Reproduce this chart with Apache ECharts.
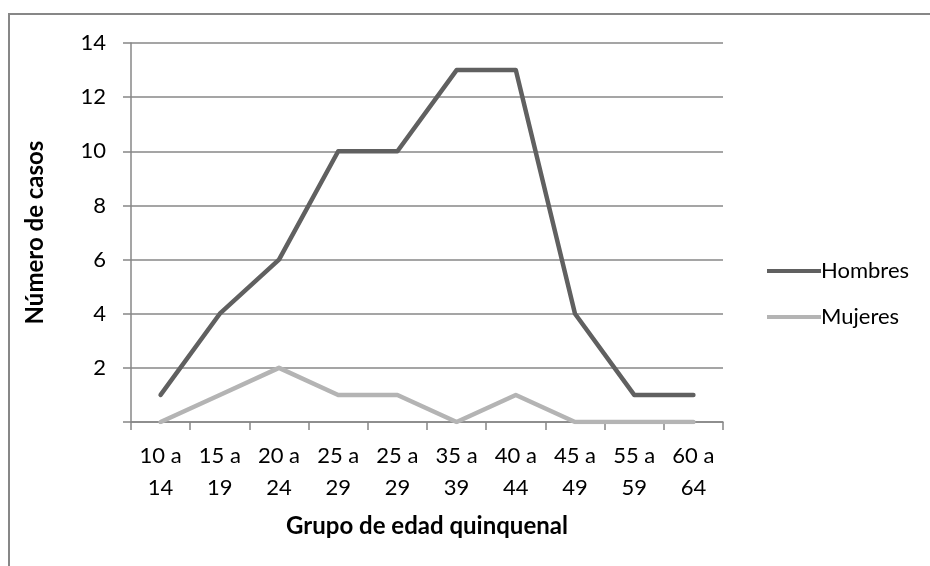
<!DOCTYPE html>
<html><head><meta charset="utf-8">
<script src="https://cdn.jsdelivr.net/npm/echarts@6/dist/echarts.min.js"></script>
<style>html,body{margin:0;padding:0;background:#fff}#c{width:930px;height:566px}</style>
</head><body><div id="c"></div>
<script>
var categories = ['10 a\n14','15 a\n19','20 a\n24','25 a\n29','25 a\n29','35 a\n39','40 a\n44','45 a\n49','55 a\n59','60 a\n64'];
var hombres = [1,4,6,10,10,13,13,4,1,1];
var mujeres = [0,1,2,1,1,0,1,0,0,0];
var yMin = 0, yMax = 14, yStep = 2;

var chart = echarts.init(document.getElementById('c'), null, {renderer:'canvas'});
var font = 'Lato, "Open Sans", sans-serif';
var grey = '#878787';
chart.setOption({
  animation:false,
  backgroundColor:'#fff',
  textStyle:{fontFamily:font},
  graphic:[{type:'rect',shape:{x:9,y:14,width:960,height:600},style:{fill:'none',stroke:grey,lineWidth:2},silent:true}],
  grid:{left:131,top:43,right:207,bottom:144},
  legend:{
    orient:'vertical', left:762, top:255, itemGap:24, itemWidth:54, itemHeight:4,
    icon:'rect',
    textStyle:{fontFamily:font,fontSize:22,color:'#000',padding:[0,0,0,-5]},
    data:['Hombres','Mujeres']
  },
  xAxis:{
    type:'category', data:categories, boundaryGap:true,
    name:'Grupo de edad quinquenal', nameLocation:'middle', nameGap:92,
    nameTextStyle:{fontFamily:font,fontSize:24,fontWeight:'bold',color:'#000'},
    axisLine:{lineStyle:{color:grey,width:1.5}},
    axisTick:{show:true,length:8,alignWithLabel:false,lineStyle:{color:grey,width:1.5}},
    axisLabel:{fontFamily:font,fontSize:22,color:'#000',lineHeight:32,margin:18,interval:0}
  },
  yAxis:{
    type:'value', min:yMin, max:yMax, interval:yStep,
    name:'Número de casos', nameLocation:'middle', nameGap:84, nameRotate:90,
    nameTextStyle:{fontFamily:font,fontSize:24,fontWeight:'bold',color:'#000'},
    axisLine:{show:true,lineStyle:{color:grey,width:1.5}},
    axisTick:{show:true,length:8,lineStyle:{color:grey,width:1.5}},
    splitLine:{show:true,lineStyle:{color:grey,width:1.5}},
    axisLabel:{fontFamily:font,fontSize:22,color:'#000',margin:25,
      formatter:function(v){return v===0?'':String(v);}}
  },
  series:[
    {name:'Hombres',type:'line',data:hombres,symbol:'none',lineStyle:{color:'#606060',width:4.5,cap:'round',join:'round'},itemStyle:{color:'#606060'}},
    {name:'Mujeres',type:'line',data:mujeres,symbol:'none',lineStyle:{color:'#b4b4b4',width:4.5,cap:'round',join:'round'},itemStyle:{color:'#b4b4b4'}}
  ]
});
</script></body></html>
